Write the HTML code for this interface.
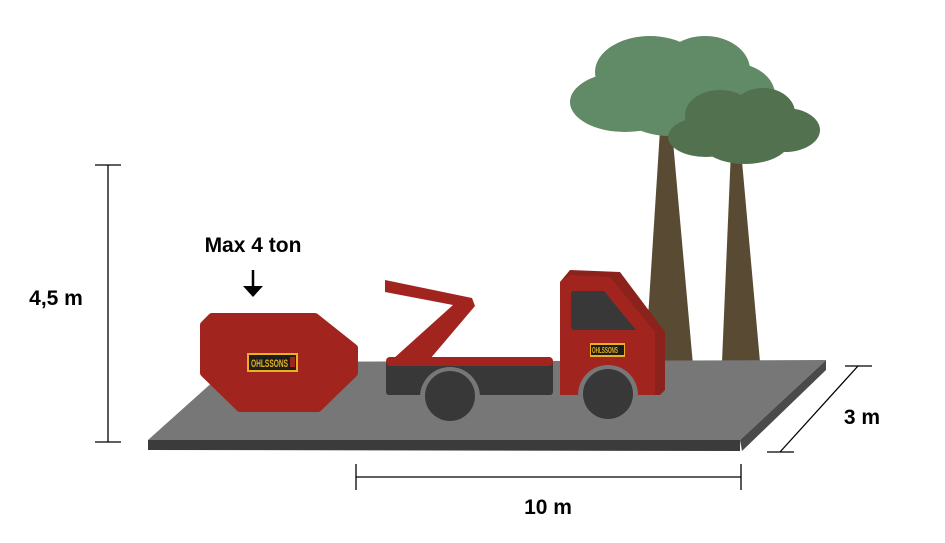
<!DOCTYPE html>
<html><head><meta charset="utf-8"><style>html,body{margin:0;padding:0;background:#fff}svg{display:block}</style></head><body>
<svg width="945" height="543" viewBox="0 0 945 543" xmlns="http://www.w3.org/2000/svg" font-family="Liberation Sans, sans-serif" font-weight="bold">
<!-- trees -->
<polygon points="645,365 693,365 672,130 660,130" fill="#594a33"/>
<polygon points="722,362 760,362 741,150 731,150" fill="#594a33"/>
<g fill="#618a67">
<ellipse cx="625" cy="102" rx="55" ry="30"/>
<ellipse cx="650" cy="72" rx="55" ry="36"/>
<ellipse cx="705" cy="70" rx="45" ry="34"/>
<ellipse cx="732" cy="95" rx="43" ry="32"/>
<ellipse cx="670" cy="108" rx="50" ry="28"/>
</g>
<g fill="#52714f">
<ellipse cx="720" cy="115" rx="35" ry="25"/>
<ellipse cx="763" cy="113" rx="32" ry="25"/>
<ellipse cx="785" cy="130" rx="35" ry="22"/>
<ellipse cx="706" cy="137" rx="38" ry="20"/>
<ellipse cx="745" cy="140" rx="45" ry="24"/>
</g>
<!-- platform -->
<polygon points="148,440 740,440 740,451 148,450" fill="#3b3b3b"/>
<polygon points="740,440 826,360 826,370 742,451" fill="#4a4a4a"/>
<polygon points="148,440 740,440 826,360 235,362" fill="#777"/>
<!-- container -->
<polygon points="212,317 315,317 354,348 354,373 318,408 240,408 204,373 204,325" fill="#a1251e" stroke="#a1251e" stroke-width="8" stroke-linejoin="round"/>
<rect x="247" y="353" width="51" height="19" fill="#e7b21d"/>
<rect x="249" y="355" width="47" height="15" fill="#1d1d1d"/>
<text x="251" y="367" font-size="11" fill="#e7b21d" textLength="37" lengthAdjust="spacingAndGlyphs">OHLSSONS</text>
<rect x="290" y="357" width="5" height="10" fill="#a1251e"/>
<!-- arrow -->
<line x1="253" y1="270" x2="253" y2="290" stroke="#000" stroke-width="2.5"/>
<polygon points="243,286 263,286 253,297" fill="#000"/>
<text x="253" y="252" font-size="21" text-anchor="middle" fill="#000">Max 4 ton</text>
<!-- truck bed -->
<rect x="386" y="360" width="167" height="35" rx="3" fill="#383838"/>
<polygon points="385,280 472,298 475,306 430,359 393,359 453,305 385,292" fill="#a1251e"/>
<rect x="386" y="357" width="167" height="9" rx="4" fill="#a1251e"/>
<!-- cab -->
<polygon points="560,282 570,270 620,272 665,332 665,390 660,395 560,395" fill="#8c221c"/>
<polygon points="560,282 570,275 610,277 655,332 655,395 560,395" fill="#a1251e"/>
<path d="M574,291 L604,291 L636,330 L574,330 Q571,330 571,326 L571,294 Q571,291 574,291Z" fill="#383838"/>
<rect x="590" y="343" width="35" height="14" fill="#e7b21d"/>
<rect x="591" y="345" width="33" height="10" fill="#1d1d1d"/>
<text x="592" y="353" font-size="8" fill="#e7b21d" textLength="26" lengthAdjust="spacingAndGlyphs">OHLSSONS</text>
<!-- wheels -->
<circle cx="450" cy="397" r="30" fill="#777"/>
<circle cx="608" cy="395" r="30" fill="#777"/>
<circle cx="450" cy="396" r="25" fill="#383838"/>
<circle cx="608" cy="394" r="25" fill="#383838"/>
<!-- dimensions -->
<g stroke="#000" stroke-width="1.3">
<line x1="108" y1="165" x2="108" y2="442"/>
<line x1="95" y1="165" x2="121" y2="165"/>
<line x1="95" y1="442" x2="121" y2="442"/>
<line x1="356" y1="477" x2="741" y2="477"/>
<line x1="356" y1="464" x2="356" y2="490"/>
<line x1="741" y1="464" x2="741" y2="490"/>
<line x1="858" y1="366" x2="780" y2="452"/>
<line x1="845" y1="366" x2="872" y2="366"/>
<line x1="767" y1="452" x2="794" y2="452"/>
</g>
<text x="56" y="305" font-size="21" text-anchor="middle">4,5 m</text>
<text x="548" y="514" font-size="21" text-anchor="middle">10 m</text>
<text x="862" y="424" font-size="21" text-anchor="middle">3 m</text>
</svg>
</body></html>
